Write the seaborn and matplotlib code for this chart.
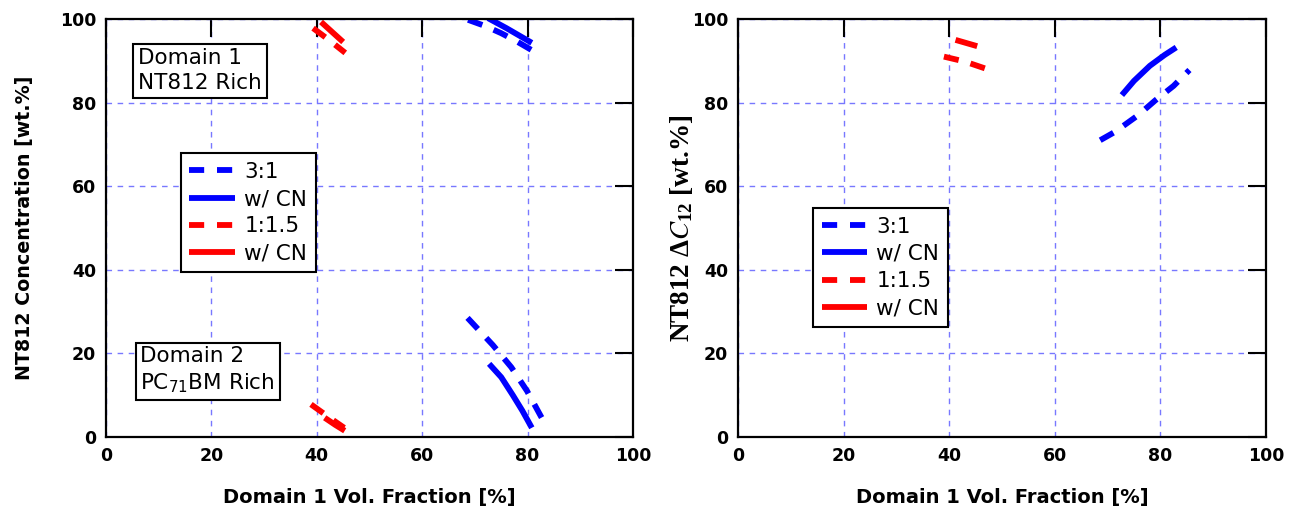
import matplotlib
matplotlib.use("Agg")
import matplotlib.pyplot as plt
from matplotlib.lines import Line2D
import seaborn as sns
import pandas as pd

# ---------------- data ----------------
series_labels = ["3:1", "w/ CN", "1:1.5", "w/ CN"]
x_ticks = [0, 20, 40, 60, 80, 100]
y_ticks = [0, 20, 40, 60, 80, 100]

# Left panel: NT812 concentration, domain 1 (top) and domain 2 (bottom)
blue_dash_top_x = [68.7, 72.0, 75.0, 78.0, 81.4]
blue_dash_top_y = [99.8, 98.3, 96.6, 94.6, 92.1]
blue_solid_top_x = [72.5, 76.0, 80.8]
blue_solid_top_y = [100.2, 97.8, 94.3]
blue_dash_bot_x = [68.6, 73.4, 76.9, 79.9, 82.5, 83.4]
blue_dash_bot_y = [28.5, 22.0, 16.7, 11.0, 5.0, 3.0]
blue_solid_bot_x = [72.7, 75.0, 77.2, 79.0, 80.8]
blue_solid_bot_y = [17.5, 14.3, 10.0, 6.3, 2.2]

red_dash_top_x = [39.3, 42.3, 45.4]
red_dash_top_y = [97.8, 95.0, 91.9]
red_solid_top_x = [40.8, 45.0]
red_solid_top_y = [99.3, 94.5]
red_dash_bot_x = [38.9, 42.0, 45.2]
red_dash_bot_y = [7.8, 5.0, 2.2]
red_solid_bot_x = [41.5, 43.5, 45.3]
red_solid_bot_y = [4.6, 2.9, 1.5]

# Right panel: NT812 delta C12
blue_dash_d_x = [68.6, 71.4, 75.8, 79.0, 82.5, 85.5]
blue_dash_d_y = [71.0, 73.0, 77.0, 80.5, 84.0, 87.8]
blue_solid_d_x = [72.7, 75.0, 78.0, 80.8, 83.0]
blue_solid_d_y = [81.8, 85.2, 88.8, 91.4, 93.2]
red_dash_d_x = [39.0, 43.0, 47.2]
red_dash_d_y = [91.0, 89.8, 88.0]
red_solid_d_x = [41.2, 45.3]
red_solid_d_y = [95.0, 93.5]

# ---------------- style ----------------
sns.set_style("white")
plt.rcParams["font.family"] = ["DejaVu Sans"]
plt.rcParams["text.color"] = "black"
plt.rcParams["axes.labelcolor"] = "black"
plt.rcParams["xtick.color"] = "black"
plt.rcParams["ytick.color"] = "black"
plt.rcParams["mathtext.fontset"] = "dejavusans"
plt.rcParams["mathtext.default"] = "regular"

BLUE = "#0000ff"
RED = "#ff0000"
LW = 4.2
DASH = (0, (2.6, 2.1))
GRID = "#7878ff"

fig = plt.figure(figsize=(12.91, 5.17), dpi=100)
axL = fig.add_axes([106 / 1291, 80 / 517, 527 / 1291, 418 / 517])
axR = fig.add_axes([738 / 1291, 80 / 517, 528 / 1291, 418 / 517])


def draw(ax, x, y, color, ls):
    df = pd.DataFrame({"x": x, "y": y})
    sns.lineplot(data=df, x="x", y="y", ax=ax, color=color, linestyle=ls,
                 linewidth=LW, sort=False, estimator=None, legend=False,
                 solid_capstyle="butt", dash_capstyle="butt")


draw(axL, blue_dash_top_x, blue_dash_top_y, BLUE, DASH)
draw(axL, blue_solid_top_x, blue_solid_top_y, BLUE, "-")
draw(axL, blue_dash_bot_x, blue_dash_bot_y, BLUE, DASH)
draw(axL, blue_solid_bot_x, blue_solid_bot_y, BLUE, "-")
draw(axL, red_dash_top_x, red_dash_top_y, RED, DASH)
draw(axL, red_solid_top_x, red_solid_top_y, RED, "-")
draw(axL, red_dash_bot_x, red_dash_bot_y, RED, DASH)
draw(axL, red_solid_bot_x, red_solid_bot_y, RED, "-")

draw(axR, blue_dash_d_x, blue_dash_d_y, BLUE, DASH)
draw(axR, blue_solid_d_x, blue_solid_d_y, BLUE, "-")
draw(axR, red_dash_d_x, red_dash_d_y, RED, DASH)
draw(axR, red_solid_d_x, red_solid_d_y, RED, "-")

for ax in (axL, axR):
    ax.set_xlim(0, 100)
    ax.set_ylim(0, 100)
    ax.set_xticks(x_ticks)
    ax.set_yticks(y_ticks)
    ax.grid(True, color=GRID, linestyle=(0, (4, 4)), linewidth=1.0)
    ax.set_axisbelow(True)
    for s in ax.spines.values():
        s.set_visible(True)
        s.set_color("black")
        s.set_linewidth(1.6)
    ax.tick_params(direction="in", length=13, width=1.5, top=True, right=True,
                   labelsize=12.5, pad=7)
    for lab in ax.get_xticklabels() + ax.get_yticklabels():
        lab.set_fontweight("bold")
    ax.set_xlabel("Domain 1 Vol. Fraction [%]", fontsize=14,
                  fontweight="bold", labelpad=17)

axL.set_ylabel("NT812 Concentration [wt.%]", fontsize=13.7,
               fontweight="bold", labelpad=19)
axR.set_ylabel(r"NT812 $\Delta \mathit{C}_{12}$ [wt.%]", fontsize=19.5,
               fontweight="bold", family="Liberation Serif",
               math_fontfamily="stix", labelpad=-2)

handles = [
    Line2D([], [], color=BLUE, lw=LW, linestyle=(0, (2.6, 2.2)), dash_capstyle="butt"),
    Line2D([], [], color=BLUE, lw=LW, solid_capstyle="butt"),
    Line2D([], [], color=RED, lw=LW, linestyle=(0, (2.6, 2.2)), dash_capstyle="butt"),
    Line2D([], [], color=RED, lw=LW, solid_capstyle="butt"),
]

for ax, anchor in ((axL, (0.142, 0.679)), (axR, (0.142, 0.548))):
    leg = ax.legend(handles, series_labels, loc="upper left",
                    bbox_to_anchor=anchor, borderaxespad=0, fontsize=15.5,
                    handlelength=2.1, handletextpad=0.45, labelspacing=0.34,
                    borderpad=0.4, fancybox=False, framealpha=1,
                    edgecolor="black")
    leg.get_frame().set_linewidth(1.5)

box = dict(boxstyle="square,pad=0.22", facecolor="white", edgecolor="black",
           linewidth=1.5)
axL.text(0.061, 0.93, "Domain 1\nNT812 Rich", transform=axL.transAxes,
         fontsize=15.5, va="top", ha="left", bbox=box, linespacing=1.3)
axL.text(0.065, 0.218, "Domain 2\nPC$_{71}$BM Rich", transform=axL.transAxes,
         fontsize=15.5, va="top", ha="left", bbox=box, linespacing=1.3)

fig.savefig("out.png", dpi=100)
